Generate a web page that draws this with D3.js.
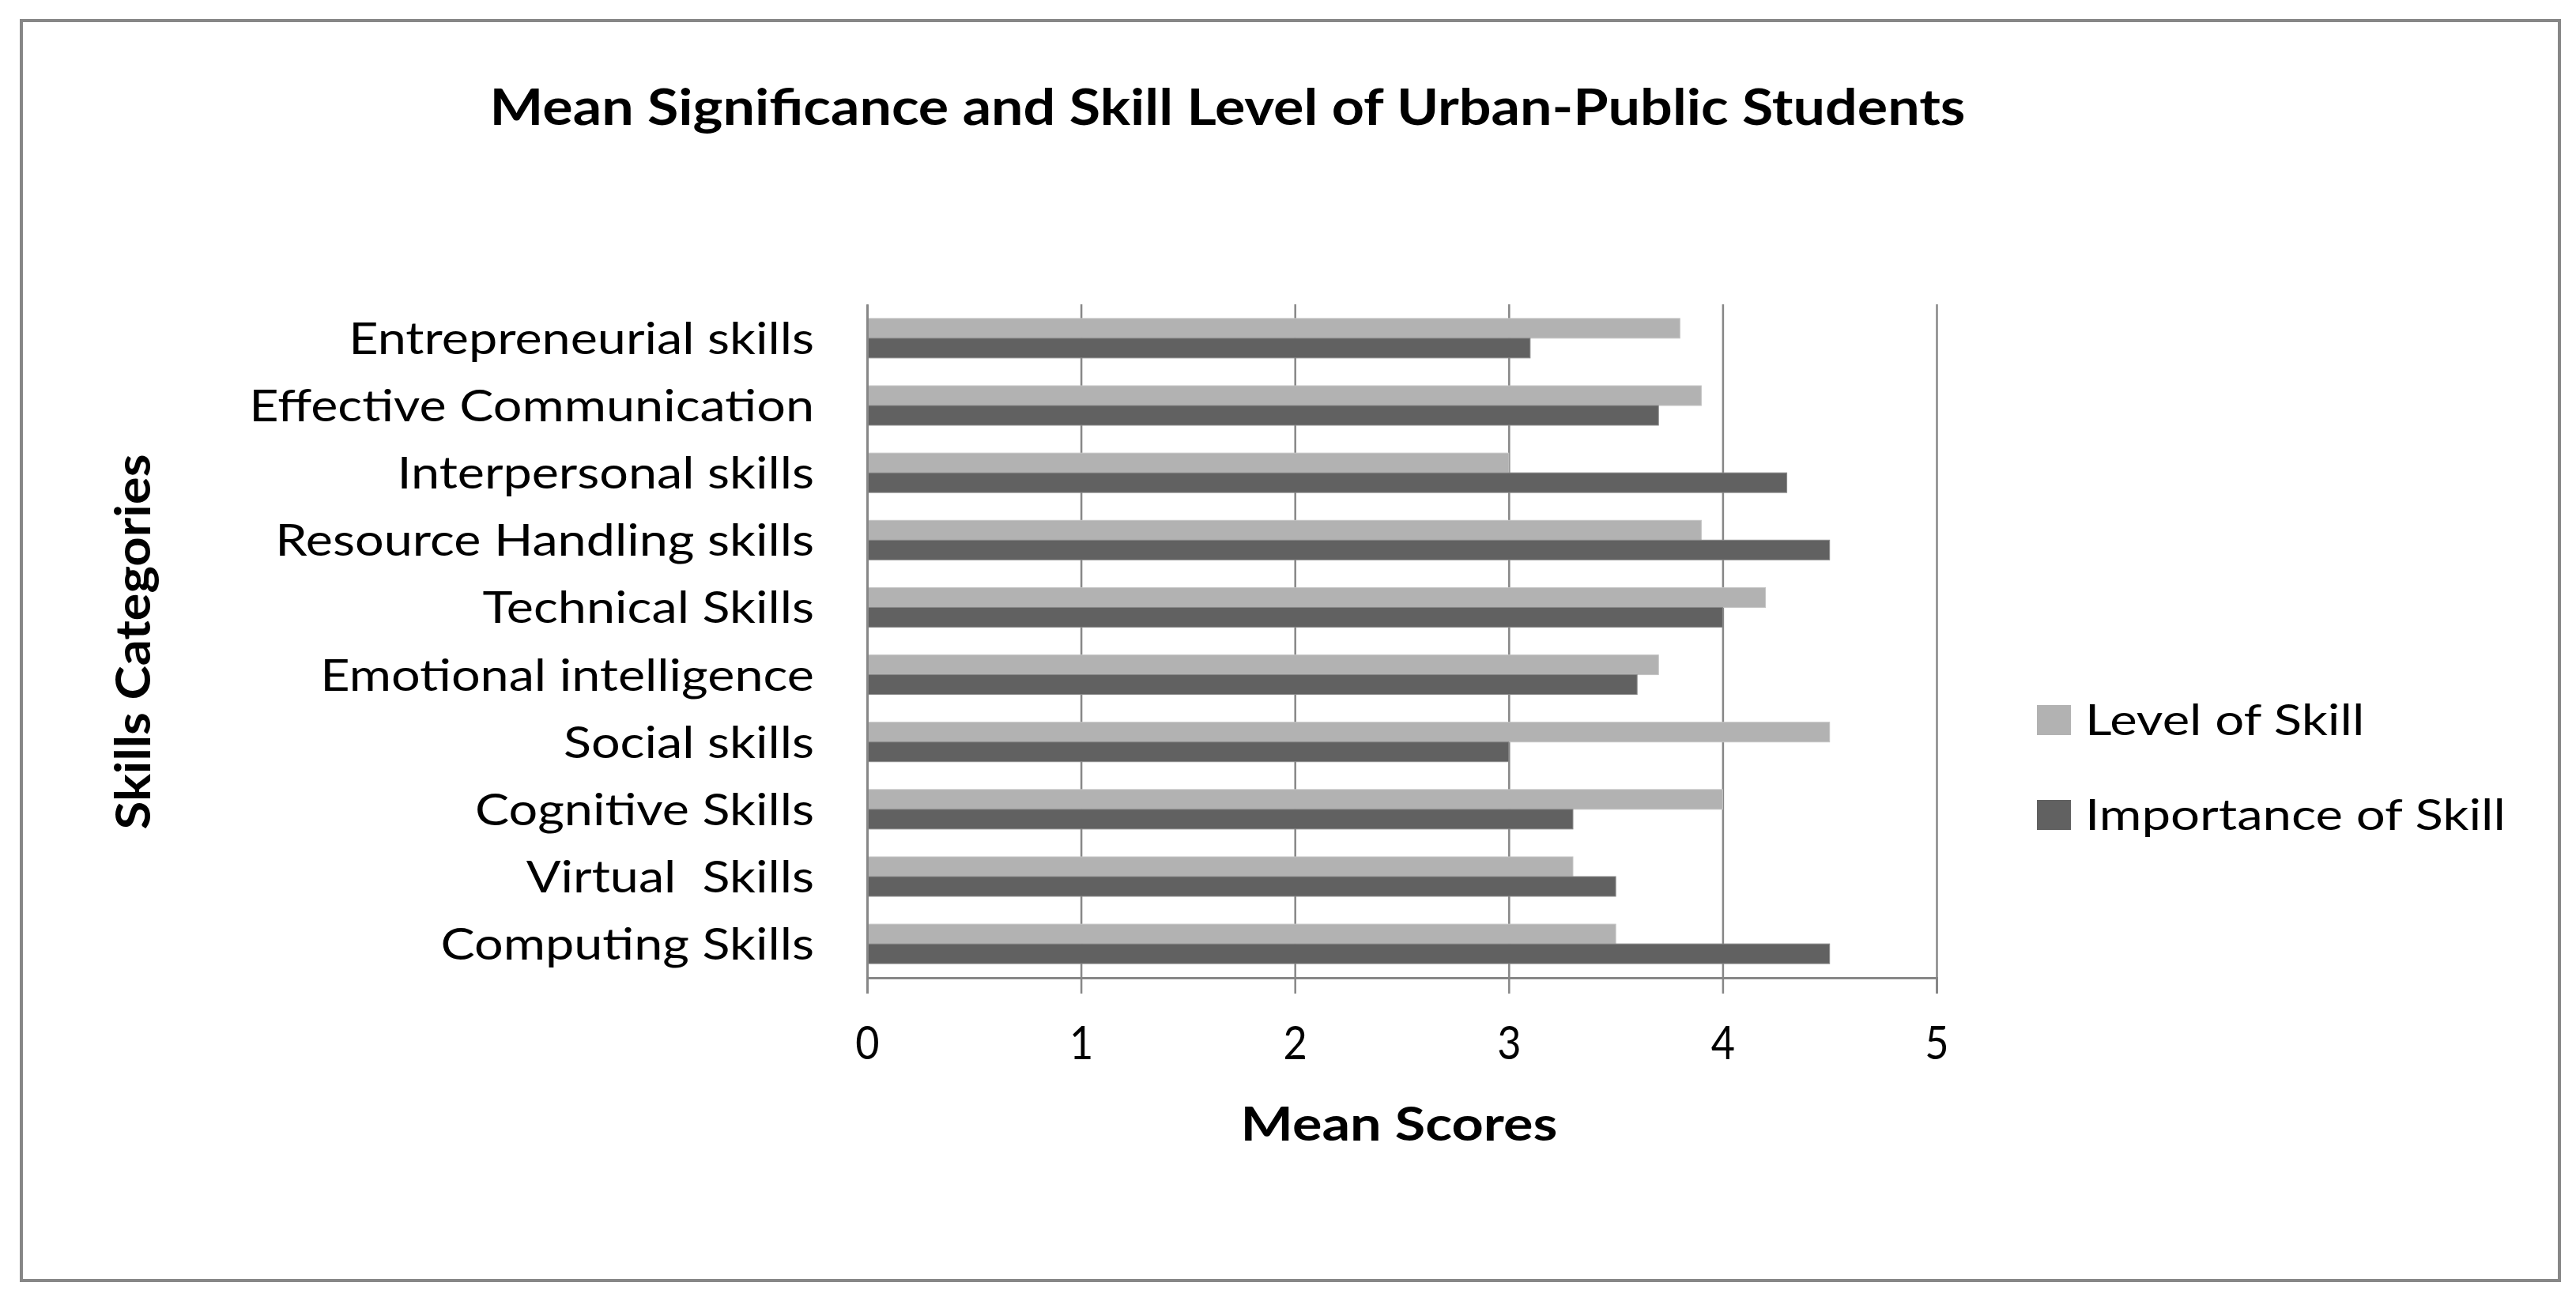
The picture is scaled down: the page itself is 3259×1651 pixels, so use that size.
<!DOCTYPE html>
<html><head><meta charset="utf-8">
<script src="https://cdn.jsdelivr.net/npm/d3@7"></script>
<style>
html,body{margin:0;padding:0;background:#fff;}
svg{display:block;}
text{font-family:Lato,"Open Sans",sans-serif;fill:#000;white-space:pre;}
</style></head>
<body>
<svg id="chart" width="3259" height="1651"></svg>
<script>
// ---- data ----
const categories = [
  "Entrepreneurial skills",
  "Effective Communication",
  "Interpersonal skills",
  "Resource Handling skills",
  "Technical Skills",
  "Emotional intelligence",
  "Social skills",
  "Cognitive Skills",
  "Virtual  Skills",
  "Computing Skills"
];
const seriesNames = ["Level of Skill", "Importance of Skill"];
const levelOfSkill      = [3.8, 3.9, 3.0, 3.9, 4.2, 3.7, 4.5, 4.0, 3.3, 3.5];
const importanceOfSkill = [3.1, 3.7, 4.3, 4.5, 4.0, 3.6, 3.0, 3.3, 3.5, 4.5];
const xTicks = [0, 1, 2, 3, 4, 5];
const titleText = "Mean Significance and Skill Level of Urban-Public Students";
const xTitle = "Mean Scores";
const yTitle = "Skills Categories";

const colors = ["#b2b2b2", "#616161"];
const seriesValues = [levelOfSkill, importanceOfSkill];

// ---- layout ----
const svg = d3.select("#chart");
const plot = {left: 1097, right: 2450, top: 385, bottom: 1237};

svg.append("rect").attr("x", 27).attr("y", 26).attr("width", 3211).attr("height", 1594)
  .attr("fill", "#fff").attr("stroke", "#878787").attr("stroke-width", 4);

const x = d3.scaleLinear().domain([0, 5]).range([plot.left, plot.right]);
const y = d3.scaleBand().domain(categories).range([plot.top, plot.bottom])
  .paddingInner(0.413).paddingOuter(0.21);
const ySub = d3.scaleBand().domain(seriesNames).range([0, y.bandwidth()]);

function fitX(sel, targetWidth) {
  const w = sel.node().getComputedTextLength();
  return targetWidth / w;
}

// gridlines
const grid = svg.append("g").attr("transform", `translate(0,${plot.top})`)
  .call(d3.axisBottom(x).tickValues(xTicks).tickSize(plot.bottom - plot.top).tickFormat(""));
grid.select(".domain").remove();
grid.selectAll("line").attr("stroke", "#878787").attr("stroke-width", 2.5);

// bars
const data = categories.map((c, i) => ({cat: c, vals: seriesNames.map((s, j) => ({s, j, v: seriesValues[j][i]}))}));
const groups = svg.append("g").selectAll("g").data(data).join("g")
  .attr("transform", d => `translate(0,${y(d.cat)})`);
groups.selectAll("rect").data(d => d.vals).join("rect")
  .attr("x", x(0))
  .attr("y", d => ySub(d.s))
  .attr("width", d => x(d.v) - x(0))
  .attr("height", ySub.bandwidth())
  .attr("fill", d => colors[d.j])
  .attr("stroke", d => d.j === 0 ? "#c4c4c4" : "#8a8a8a")
  .attr("stroke-width", 1);

// left axis (category labels)
const yAxis = svg.append("g").attr("transform", `translate(${plot.left},0)`)
  .call(d3.axisLeft(y).tickSize(0).tickPadding(0));
yAxis.select(".domain").attr("stroke", "#878787").attr("stroke-width", 3);
const yLabels = yAxis.selectAll("text")
  .attr("font-family", "Lato").attr("font-size", 57).attr("fill", "#000")
  .style("white-space", "pre");
let kCat = fitX(yAxis.selectAll("text").filter(d => d === "Effective Communication"), 715);
yLabels.attr("transform", `scale(${kCat},1)`).attr("x", -67 / kCat).attr("dy", 20).attr("y", 0);

// bottom axis
const xAxis = svg.append("g").attr("transform", `translate(0,${plot.bottom})`)
  .call(d3.axisBottom(x).tickValues(xTicks).tickSize(20).tickFormat(d3.format("d")));
xAxis.select(".domain").attr("stroke", "#878787").attr("stroke-width", 3);
xAxis.selectAll("line").attr("stroke", "#878787").attr("stroke-width", 2.5);
xAxis.selectAll("text").attr("font-family", "Lato").attr("font-size", 58).attr("fill", "#000")
  .attr("y", 103).attr("dy", 0).attr("transform", "scale(0.9,1)").attr("x", 0);

// title
const t = svg.append("text").attr("text-anchor", "middle").attr("font-weight", "bold")
  .attr("font-size", 63).text(titleText);
const kT = fitX(t, 1867);
t.attr("transform", `translate(1553,158) scale(${kT},1)`);

// x title
const xt = svg.append("text").attr("text-anchor", "middle").attr("font-weight", "bold")
  .attr("font-size", 60).text(xTitle);
const kX = fitX(xt, 401);
xt.attr("transform", `translate(1770,1443) scale(${kX},1)`);

// y title
const yt = svg.append("text").attr("text-anchor", "middle").attr("font-weight", "bold")
  .attr("font-size", 62).text(yTitle);
const kY = fitX(yt, 475);
yt.attr("transform", `translate(190,812) rotate(-90) scale(${kY},1)`);

// legend
const legend = svg.append("g");
const legY = [892, 1012];
seriesNames.forEach((s, j) => {
  legend.append("rect").attr("x", 2577).attr("y", legY[j]).attr("width", 43).attr("height", 38)
    .attr("fill", colors[j]);
  legend.append("text").attr("class", "legtxt").attr("font-size", 54).text(s)
    .attr("data-y", legY[j] + 38);
});
const kL = fitX(legend.selectAll(".legtxt").filter(function(){ return this.textContent === "Importance of Skill"; }), 532);
legend.selectAll(".legtxt").attr("transform", function(){
  return `translate(2638,${+this.getAttribute("data-y")}) scale(${kL},1)`;
});
</script>
</body></html>
